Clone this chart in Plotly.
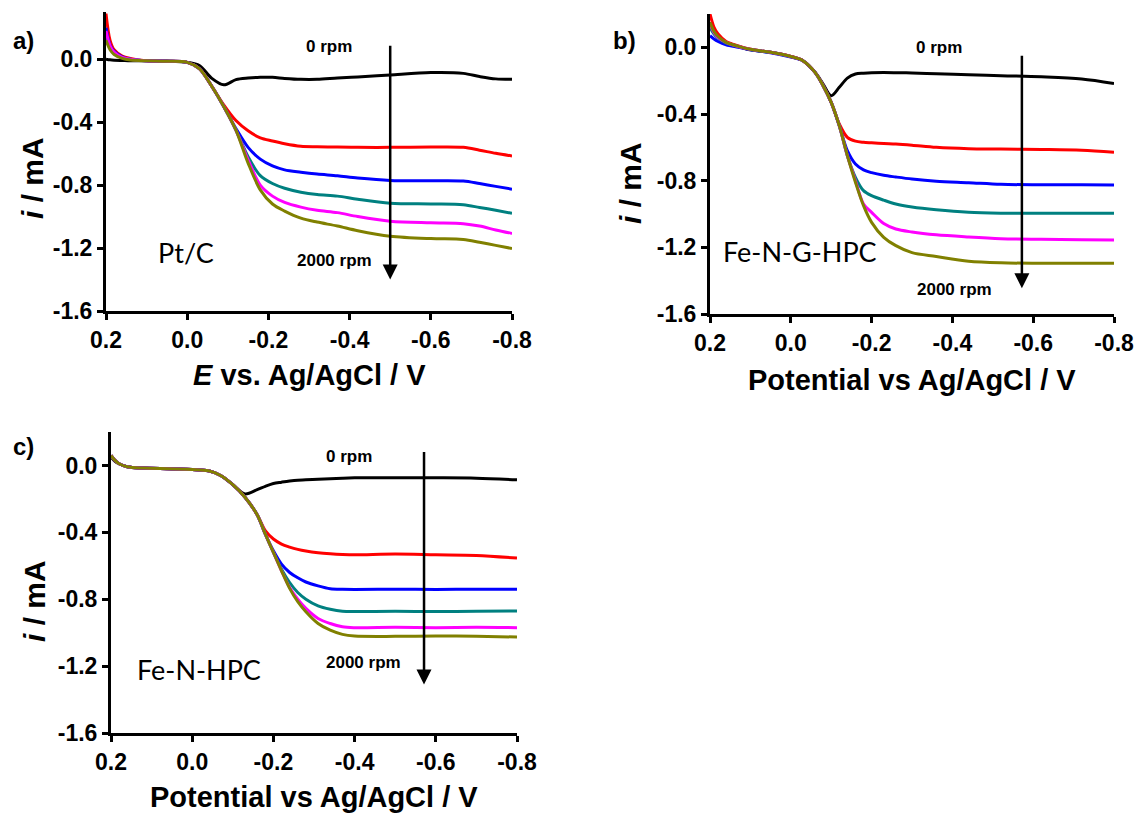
import plotly.graph_objects as go

# ---------------------------------------------------------------------------
# RDE polarisation curves (current vs potential) at several rotation rates
# ---------------------------------------------------------------------------
RPM_LABELS = ["0 rpm", "400 rpm", "800 rpm", "1200 rpm", "1600 rpm", "2000 rpm"]
COLORS = ["#000000", "#ff0000", "#0000ff", "#008080", "#ff00ff", "#808000"]

X_TICKS = [0.2, 0.0, -0.2, -0.4, -0.6, -0.8]
X_TICK_TEXT = ["0.2", "0.0", "-0.2", "-0.4", "-0.6", "-0.8"]
Y_TICKS = [0.0, -0.4, -0.8, -1.2, -1.6]
Y_TICK_TEXT = ["0.0", "-0.4", "-0.8", "-1.2", "-1.6"]

# ---- a) Pt/C --------------------------------------------------------------
E_ptc = [0.2, 0.19, 0.18, 0.16, 0.14, 0.1, 0.05, 0.0, -0.03, -0.06, -0.09, -0.12, -0.15,
         -0.18, -0.21, -0.24, -0.28, -0.32, -0.37, -0.42, -0.5, -0.6, -0.68, -0.72, -0.76, -0.8]
ptc_0 = [0.0, -0.004, -0.006, -0.008, -0.01, -0.01, -0.012, -0.02, -0.04, -0.12, -0.163, -0.13, -0.12,
         -0.115, -0.115, -0.122, -0.128, -0.128, -0.12, -0.113, -0.1, -0.085, -0.09, -0.11, -0.125, -0.128]
ptc_400 = [0.29, 0.12, 0.06, 0.02, 0.005, -0.01, -0.013, -0.02, -0.06, -0.17, -0.29, -0.39, -0.455,
           -0.5, -0.52, -0.537, -0.553, -0.556, -0.558, -0.56, -0.56, -0.558, -0.56, -0.578, -0.598, -0.615]
ptc_800 = [0.2, 0.09, 0.05, 0.015, 0.0, -0.01, -0.013, -0.02, -0.06, -0.17, -0.3, -0.44, -0.56,
           -0.635, -0.678, -0.703, -0.718, -0.73, -0.741, -0.755, -0.77, -0.772, -0.774, -0.79, -0.808, -0.826]
ptc_1200 = [0.16, 0.08, 0.04, 0.01, 0.0, -0.01, -0.013, -0.02, -0.06, -0.17, -0.3, -0.45, -0.62,
            -0.74, -0.79, -0.82, -0.845, -0.86, -0.87, -0.89, -0.915, -0.92, -0.925, -0.942, -0.96, -0.979]
ptc_1600 = [0.18, 0.085, 0.045, 0.012, 0.0, -0.01, -0.013, -0.02, -0.06, -0.17, -0.3, -0.45, -0.64,
            -0.8, -0.87, -0.91, -0.94, -0.96, -0.975, -1.0, -1.03, -1.04, -1.045, -1.06, -1.085, -1.107]
ptc_2000 = [0.12, 0.06, 0.03, 0.005, -0.005, -0.01, -0.013, -0.02, -0.06, -0.17, -0.3, -0.45, -0.66,
            -0.83, -0.92, -0.965, -1.01, -1.035, -1.06, -1.09, -1.125, -1.14, -1.145, -1.163, -1.183, -1.203]

# ---- b) Fe-N-G-HPC --------------------------------------------------------
E_fngh = [0.2, 0.19, 0.18, 0.16, 0.13, 0.1, 0.05, 0.0, -0.03, -0.06, -0.08, -0.1, -0.12, -0.14,
          -0.16, -0.18, -0.2, -0.23, -0.26, -0.3, -0.36, -0.44, -0.52, -0.62, -0.72, -0.8]
fngh_0 = [0.15, 0.09, 0.06, 0.03, 0.005, -0.015, -0.03, -0.055, -0.08, -0.15, -0.22, -0.29, -0.24, -0.185,
          -0.16, -0.155, -0.152, -0.151, -0.152, -0.154, -0.158, -0.165, -0.17, -0.177, -0.19, -0.217]
fngh_400 = [0.2, 0.12, 0.08, 0.035, 0.008, -0.012, -0.03, -0.055, -0.08, -0.15, -0.23, -0.33, -0.46, -0.54,
            -0.563, -0.57, -0.573, -0.577, -0.58, -0.587, -0.6, -0.608, -0.61, -0.613, -0.618, -0.629]
fngh_800 = [0.07, 0.05, 0.035, 0.015, 0.0, -0.015, -0.032, -0.058, -0.08, -0.15, -0.23, -0.33, -0.47, -0.62,
            -0.7, -0.735, -0.752, -0.768, -0.778, -0.79, -0.803, -0.812, -0.822, -0.825, -0.825, -0.826]
fngh_1200 = [0.12, 0.08, 0.055, 0.025, 0.005, -0.013, -0.03, -0.056, -0.08, -0.15, -0.23, -0.33, -0.47, -0.65,
             -0.78, -0.86, -0.89, -0.917, -0.94, -0.958, -0.975, -0.99, -0.995, -0.996, -0.996, -0.996]
fngh_1600 = [0.14, 0.09, 0.06, 0.03, 0.005, -0.012, -0.03, -0.055, -0.08, -0.15, -0.23, -0.33, -0.47, -0.65,
             -0.8, -0.94, -0.99, -1.057, -1.09, -1.108, -1.125, -1.138, -1.148, -1.152, -1.155, -1.156]
fngh_2000 = [0.15, 0.095, 0.065, 0.03, 0.006, -0.012, -0.03, -0.055, -0.08, -0.15, -0.23, -0.33, -0.47, -0.65,
             -0.81, -0.95, -1.05, -1.14, -1.19, -1.232, -1.255, -1.283, -1.293, -1.296, -1.296, -1.296]

# ---- c) Fe-N-HPC ----------------------------------------------------------
E_fnh = [0.2, 0.19, 0.18, 0.16, 0.12, 0.06, 0.0, -0.04, -0.07, -0.1, -0.13, -0.16, -0.18, -0.2,
         -0.22, -0.24, -0.26, -0.28, -0.31, -0.34, -0.37, -0.4, -0.5, -0.6, -0.7, -0.8]
fnh_0 = [0.05, 0.025, 0.01, -0.008, -0.016, -0.02, -0.024, -0.032, -0.06, -0.115, -0.17, -0.145, -0.125, -0.108,
         -0.1, -0.093, -0.088, -0.086, -0.082, -0.079, -0.076, -0.074, -0.074, -0.074, -0.076, -0.086]
fnh_400 = [0.06, 0.03, 0.01, -0.008, -0.016, -0.02, -0.024, -0.032, -0.06, -0.115, -0.19, -0.295, -0.39, -0.44,
           -0.47, -0.488, -0.502, -0.512, -0.522, -0.528, -0.532, -0.534, -0.53, -0.534, -0.538, -0.554]
fnh_800 = [0.06, 0.03, 0.01, -0.008, -0.016, -0.02, -0.024, -0.032, -0.06, -0.115, -0.19, -0.295, -0.41, -0.51,
           -0.59, -0.64, -0.672, -0.697, -0.72, -0.737, -0.741, -0.742, -0.74, -0.742, -0.74, -0.741]
fnh_1200 = [0.06, 0.03, 0.01, -0.008, -0.016, -0.02, -0.024, -0.032, -0.06, -0.115, -0.19, -0.295, -0.41, -0.52,
            -0.62, -0.7, -0.76, -0.8, -0.84, -0.86, -0.872, -0.874, -0.872, -0.874, -0.872, -0.87]
fnh_1600 = [0.06, 0.03, 0.01, -0.008, -0.016, -0.02, -0.024, -0.032, -0.06, -0.115, -0.19, -0.295, -0.41, -0.52,
            -0.63, -0.73, -0.8, -0.855, -0.915, -0.945, -0.965, -0.97, -0.968, -0.97, -0.968, -0.97]
fnh_2000 = [0.06, 0.03, 0.01, -0.008, -0.016, -0.02, -0.024, -0.032, -0.06, -0.115, -0.19, -0.295, -0.41, -0.52,
            -0.63, -0.735, -0.815, -0.875, -0.945, -0.985, -1.01, -1.02, -1.022, -1.02, -1.022, -1.026]

W, H = 1140, 813


def px(x):
    return x / W


def py(y):
    return 1 - y / H


# Panel layout (pixel boxes), text placements in data coordinates
panels = [
    dict(E=E_ptc, I=[ptc_0, ptc_400, ptc_800, ptc_1200, ptc_1600, ptc_2000],
         box=(106, 512, 12, 311), yr=[-1.6, 0.3], letter="a)", letter_xy=(23, 41),
         xtitle="<i>E</i> vs. Ag/AgCl / V", xtitle_y=375, ytitle_xy=(32, 178),
         name="Pt/C", name_xy=(0.004, -1.226),
         top=(-0.349, 0.083), bottom=(-0.364, -1.277), arrow=(-0.5, 0.095, -1.40)),
    dict(E=E_fngh, I=[fngh_0, fngh_400, fngh_800, fngh_1200, fngh_1600, fngh_2000],
         box=(710, 1114, 14, 314), yr=[-1.6, 0.2], letter="b)", letter_xy=(624, 40),
         xtitle="Potential vs Ag/AgCl / V", xtitle_y=380, ytitle_xy=(630, 183),
         name="Fe-N-G-HPC", name_xy=(-0.023, -1.224),
         top=(-0.367, 0.0), bottom=(-0.404, -1.452), arrow=(-0.572, -0.042, -1.446)),
    dict(E=E_fnh, I=[fnh_0, fnh_400, fnh_800, fnh_1200, fnh_1600, fnh_2000],
         box=(111, 517, 432, 733), yr=[-1.6, 0.2], letter="c)", letter_xy=(23, 446),
         xtitle="Potential vs Ag/AgCl / V", xtitle_y=797, ytitle_xy=(34, 601),
         name="Fe-N-HPC", name_xy=(-0.017, -1.22),
         top=(-0.386, 0.054), bottom=(-0.422, -1.18), arrow=(-0.571, 0.09, -1.31)),
]

BOLD = "Arial, 'Liberation Sans', sans-serif"
fig = go.Figure()
annotations = []
layout_axes = {}

for k, p in enumerate(panels, start=1):
    xa = "x" if k == 1 else f"x{k}"
    ya = "y" if k == 1 else f"y{k}"
    for I, c, lab in zip(p["I"], COLORS, RPM_LABELS):
        fig.add_trace(go.Scatter(
            x=p["E"], y=I, mode="lines", name=lab, showlegend=False,
            line=dict(color=c, width=3, shape="spline", smoothing=0.9),
            xaxis=xa, yaxis=ya))

    x0, x1, y0, y1 = p["box"]
    axis_common = dict(showline=True, linewidth=3, linecolor="black", mirror=False,
                       ticks="outside", ticklen=6, tickwidth=2.5, tickcolor="black",
                       showgrid=False, zeroline=False, automargin=False,
                       tickfont=dict(family=BOLD, size=23, color="black", weight="bold"))
    layout_axes["xaxis" if k == 1 else f"xaxis{k}"] = dict(
        axis_common, domain=[px(x0), px(x1)], range=[0.2, -0.8],
        tickvals=X_TICKS, ticktext=X_TICK_TEXT, anchor=ya)
    layout_axes["yaxis" if k == 1 else f"yaxis{k}"] = dict(
        axis_common, domain=[py(y1), py(y0)], range=p["yr"],
        tickvals=Y_TICKS, ticktext=Y_TICK_TEXT, anchor=xa)

    # panel letter
    lx, ly = p["letter_xy"]
    annotations.append(dict(xref="paper", yref="paper", x=px(lx), y=py(ly), text=p["letter"],
                            showarrow=False, xanchor="center", yanchor="middle",
                            font=dict(family=BOLD, size=24, color="black", weight="bold")))
    # axis titles
    annotations.append(dict(xref="paper", yref="paper", x=px((x0 + x1) / 2), y=py(p["xtitle_y"]),
                            text=p["xtitle"], showarrow=False, xanchor="center", yanchor="middle",
                            font=dict(family=BOLD, size=29, color="black", weight="bold")))
    tx, ty = p["ytitle_xy"]
    annotations.append(dict(xref="paper", yref="paper", x=px(tx), y=py(ty),
                            text="<i>i</i> / mA", textangle=-90, showarrow=False,
                            xanchor="center", yanchor="middle",
                            font=dict(family=BOLD, size=30, color="black", weight="bold")))
    # catalyst name
    nx, ny = p["name_xy"]
    annotations.append(dict(xref=xa, yref=ya, x=nx, y=ny, text=p["name"], showarrow=False,
                            xanchor="center", yanchor="middle",
                            font=dict(family="Lato, 'Open Sans', sans-serif", size=27, color="black")))
    # rotation-rate labels
    for (ex, ey), txt in ((p["top"], RPM_LABELS[0]), (p["bottom"], RPM_LABELS[-1])):
        annotations.append(dict(xref=xa, yref=ya, x=ex, y=ey, text=txt, showarrow=False,
                                xanchor="center", yanchor="middle",
                                font=dict(family=BOLD, size=17, color="black", weight="bold")))
    # increasing rotation rate arrow
    ax_e, ay_top, ay_bot = p["arrow"]
    annotations.append(dict(xref=xa, yref=ya, axref=xa, ayref=ya, x=ax_e, y=ay_bot,
                            ax=ax_e, ay=ay_top, text="", showarrow=True,
                            arrowhead=2, arrowsize=1.2, arrowwidth=2.5, arrowcolor="black"))

fig.update_layout(
    width=W, height=H, margin=dict(l=0, r=0, t=0, b=0),
    paper_bgcolor="white", plot_bgcolor="white",
    annotations=annotations, **layout_axes)

fig.write_html("out.html")
